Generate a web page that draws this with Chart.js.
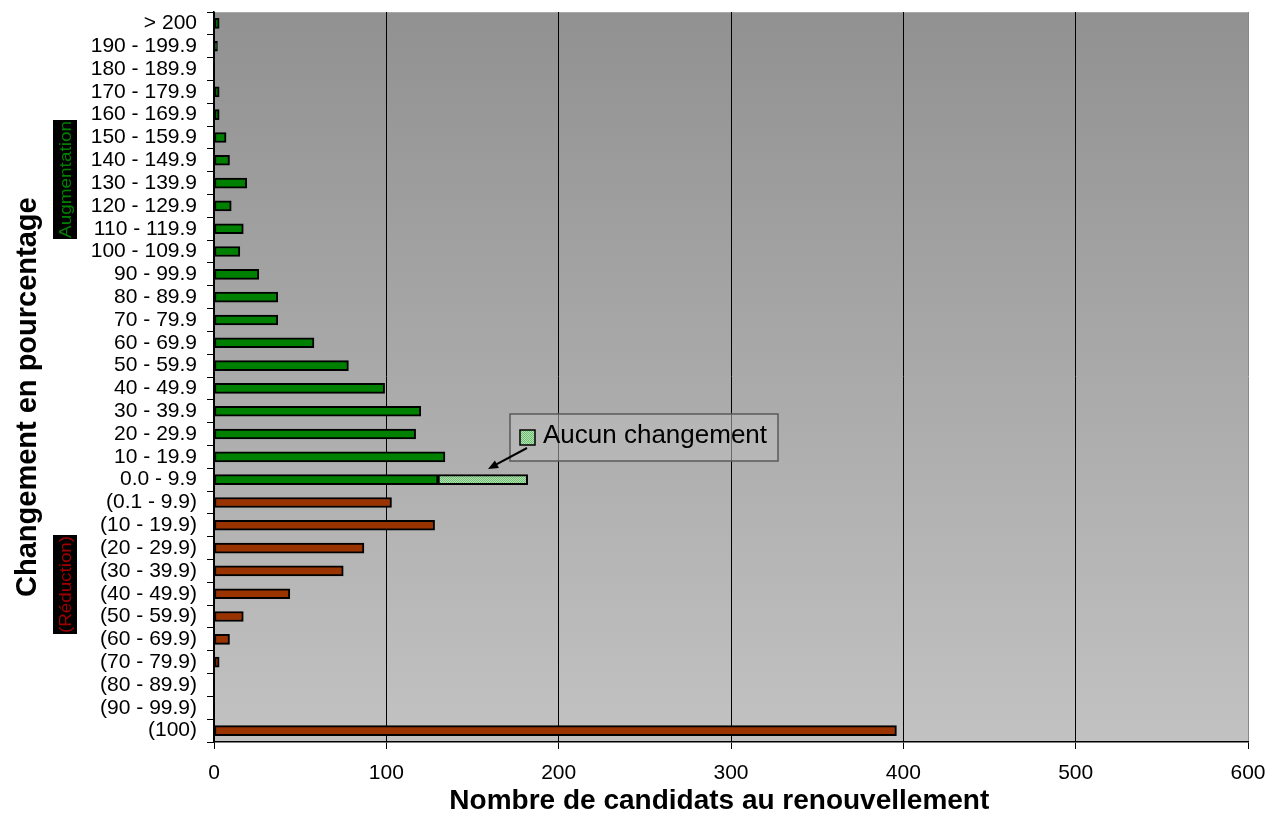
<!DOCTYPE html>
<html>
<head>
<meta charset="utf-8">
<script src="https://cdn.jsdelivr.net/npm/chart.js@4/dist/chart.umd.min.js"></script>
<style>
  html, body { margin: 0; padding: 0; background: #ffffff; }
  #wrap { width: 1282px; height: 818px; }
</style>
</head>
<body>
<div id="wrap"><canvas id="c" width="1282" height="818"></canvas></div>
<script>
// ---- Data ----
const categories = ['> 200', '190 - 199.9', '180 - 189.9', '170 - 179.9', '160 - 169.9', '150 - 159.9',
  '140 - 149.9', '130 - 139.9', '120 - 129.9', '110 - 119.9', '100 - 109.9', '90 - 99.9',
  '80 - 89.9', '70 - 79.9', '60 - 69.9', '50 - 59.9', '40 - 49.9', '30 - 39.9', '20 - 29.9',
  '10 - 19.9', '0.0 - 9.9', '(0.1 - 9.9)', '(10 - 19.9)', '(20 - 29.9)', '(30 - 39.9)',
  '(40 - 49.9)', '(50 - 59.9)', '(60 - 69.9)', '(70 - 79.9)', '(80 - 89.9)', '(90 - 99.9)', '(100)'];
const augmentation = [3, 2, 0, 3, 3, 7, 9, 19, 10, 17, 15, 26, 37, 37, 58, 78, 99, 120, 117, 134, 130,
  null, null, null, null, null, null, null, null, null, null, null];
const aucunChangement = [null, null, null, null, null, null, null, null, null, null, null, null, null,
  null, null, null, null, null, null, null, 52,
  null, null, null, null, null, null, null, null, null, null, null];
const reduction = [null, null, null, null, null, null, null, null, null, null, null, null, null, null,
  null, null, null, null, null, null, null,
  103, 128, 87, 75, 44, 17, 9, 3, 0, 0, 396];
const xTicks = [0, 100, 200, 300, 400, 500, 600];
const xTitle = 'Nombre de candidats au renouvellement';
const yTitle = 'Changement en pourcentage';
const legendLabel = 'Aucun changement';
const sideLabelUp = 'Augmentation';
const sideLabelDown = '(Réduction)';

const FONT = '"Liberation Sans", Arial, sans-serif';

// pattern for "Aucun changement"
function makePattern() {
  const p = document.createElement('canvas');
  p.width = 2; p.height = 2;
  const g = p.getContext('2d');
  g.fillStyle = '#b8e0b8'; g.fillRect(0, 0, 2, 2);
  g.fillStyle = '#6cbf6c'; g.fillRect(0, 0, 1, 1); g.fillRect(1, 1, 1, 1);
  return document.getElementById('c').getContext('2d').createPattern(p, 'repeat');
}
const pattern = makePattern();

const bgPlugin = {
  id: 'bg',
  beforeDraw(chart) {
    const { ctx, chartArea: a } = chart;
    const grd = ctx.createLinearGradient(0, a.top, 0, a.bottom);
    grd.addColorStop(0, '#919191');
    grd.addColorStop(1, '#c2c2c2');
    ctx.save();
    ctx.fillStyle = grd;
    ctx.fillRect(a.left, a.top, a.right - a.left, a.bottom - a.top);
    ctx.strokeStyle = '#a8a8a8';
    ctx.lineWidth = 1;
    ctx.beginPath();
    ctx.moveTo(a.left, a.top + 0.5); ctx.lineTo(a.right, a.top + 0.5);
    ctx.stroke();
    ctx.restore();
  }
};

const annoPlugin = {
  id: 'anno',
  afterDraw(chart) {
    const { ctx } = chart;
    ctx.save();
    // side labels
    function sideLabel(text, color, x0, y0, w, h) {
      ctx.fillStyle = '#000000';
      ctx.fillRect(x0, y0, w, h);
      ctx.save();
      ctx.translate(x0 + w / 2, y0 + h / 2);
      ctx.rotate(-Math.PI / 2);
      ctx.font = '17px ' + FONT;
      const tw = ctx.measureText(text).width;
      const sx = (h - 2) / tw;
      ctx.scale(sx, 1);
      ctx.fillStyle = color;
      ctx.textAlign = 'center';
      ctx.textBaseline = 'middle';
      ctx.fillText(text, 0, 1);
      ctx.restore();
    }
    sideLabel(sideLabelUp, '#008000', 53, 120, 24, 119);
    sideLabel(sideLabelDown, '#a00000', 53, 535, 24, 99);

    // legend box
    const bx = 510, by = 414, bw = 268, bh = 47;
    ctx.fillStyle = 'rgba(190,190,190,0.55)';
    ctx.fillRect(bx, by, bw, bh);
    ctx.strokeStyle = '#5a5a5a';
    ctx.lineWidth = 1.5;
    ctx.strokeRect(bx, by, bw, bh);
    ctx.fillStyle = pattern;
    ctx.fillRect(520, 430, 15, 15);
    ctx.strokeStyle = '#000000';
    ctx.lineWidth = 1.5;
    ctx.strokeRect(520, 430, 15, 15);
    ctx.fillStyle = '#000000';
    ctx.font = '26px ' + FONT;
    ctx.textAlign = 'left';
    ctx.textBaseline = 'middle';
    ctx.fillText(legendLabel, 543, 436);

    // arrow
    const x1 = 527, y1 = 448, x2 = 488, y2 = 469;
    ctx.strokeStyle = '#000000';
    ctx.lineWidth = 2;
    ctx.beginPath(); ctx.moveTo(x1, y1); ctx.lineTo(x2 + 6, y2 - 3.3); ctx.stroke();
    const ang = Math.atan2(y2 - y1, x2 - x1);
    ctx.beginPath();
    ctx.moveTo(x2, y2);
    ctx.lineTo(x2 - 11 * Math.cos(ang - 0.4), y2 - 11 * Math.sin(ang - 0.4));
    ctx.lineTo(x2 - 11 * Math.cos(ang + 0.4), y2 - 11 * Math.sin(ang + 0.4));
    ctx.closePath();
    ctx.fillStyle = '#000000';
    ctx.fill();
    ctx.restore();
  }
};

const barCommon = {
  barThickness: 10,
  borderWidth: 2,
  borderColor: '#000000',
  borderSkipped: false
};

new Chart(document.getElementById('c'), {
  type: 'bar',
  data: {
    labels: categories,
    datasets: [
      Object.assign({ label: 'Augmentation', data: augmentation, backgroundColor: '#008000' }, barCommon),
      Object.assign({ label: legendLabel, data: aucunChangement, backgroundColor: pattern }, barCommon),
      Object.assign({ label: 'Réduction', data: reduction, backgroundColor: '#993300' }, barCommon)
    ]
  },
  options: {
    indexAxis: 'y',
    responsive: false,
    animation: false,
    events: [],
    layout: { padding: { top: 12, right: 34, left: 0, bottom: 0 } },
    plugins: { legend: { display: false }, tooltip: { enabled: false } },
    scales: {
      x: {
        stacked: true,
        min: 0, max: 600,
        afterBuildTicks(s) { s.ticks = xTicks.map(v => ({ value: v })); },
        afterFit(s) { s.height = 76; },
        ticks: { color: '#000000', font: { family: FONT, size: 21 }, padding: 12, maxRotation: 0 },
        grid: {
          color: ctx => (ctx.tick && ctx.tick.value === 600) ? '#888888' : '#000000',
          lineWidth: 1,
          drawTicks: true,
          tickLength: 7,
          tickColor: '#000000'
        },
        border: { display: true, color: '#000000', width: 1.5 },
        title: {
          display: true,
          text: xTitle + '   ',
          color: '#000000',
          font: { family: FONT, size: 28, weight: 'bold' },
          padding: { top: 0, bottom: 0 }
        }
      },
      y: {
        stacked: true,
        afterFit(s) { s.width = 214; s.paddingTop = 0; s.paddingBottom = 0; },
        ticks: { color: '#000000', font: { family: FONT, size: 21 }, padding: 10, autoSkip: false },
        grid: {
          offset: true,
          drawOnChartArea: false,
          drawTicks: true,
          tickLength: 7,
          color: '#000000',
          lineWidth: 1
        },
        border: { display: true, color: '#000000', width: 1.5 },
        title: {
          display: true,
          text: yTitle + '     ',
          color: '#000000',
          font: { family: FONT, size: 29, weight: 'bold' },
          padding: { top: 11, bottom: 0 }
        }
      }
    }
  },
  plugins: [bgPlugin, annoPlugin]
});
</script>
</body>
</html>
